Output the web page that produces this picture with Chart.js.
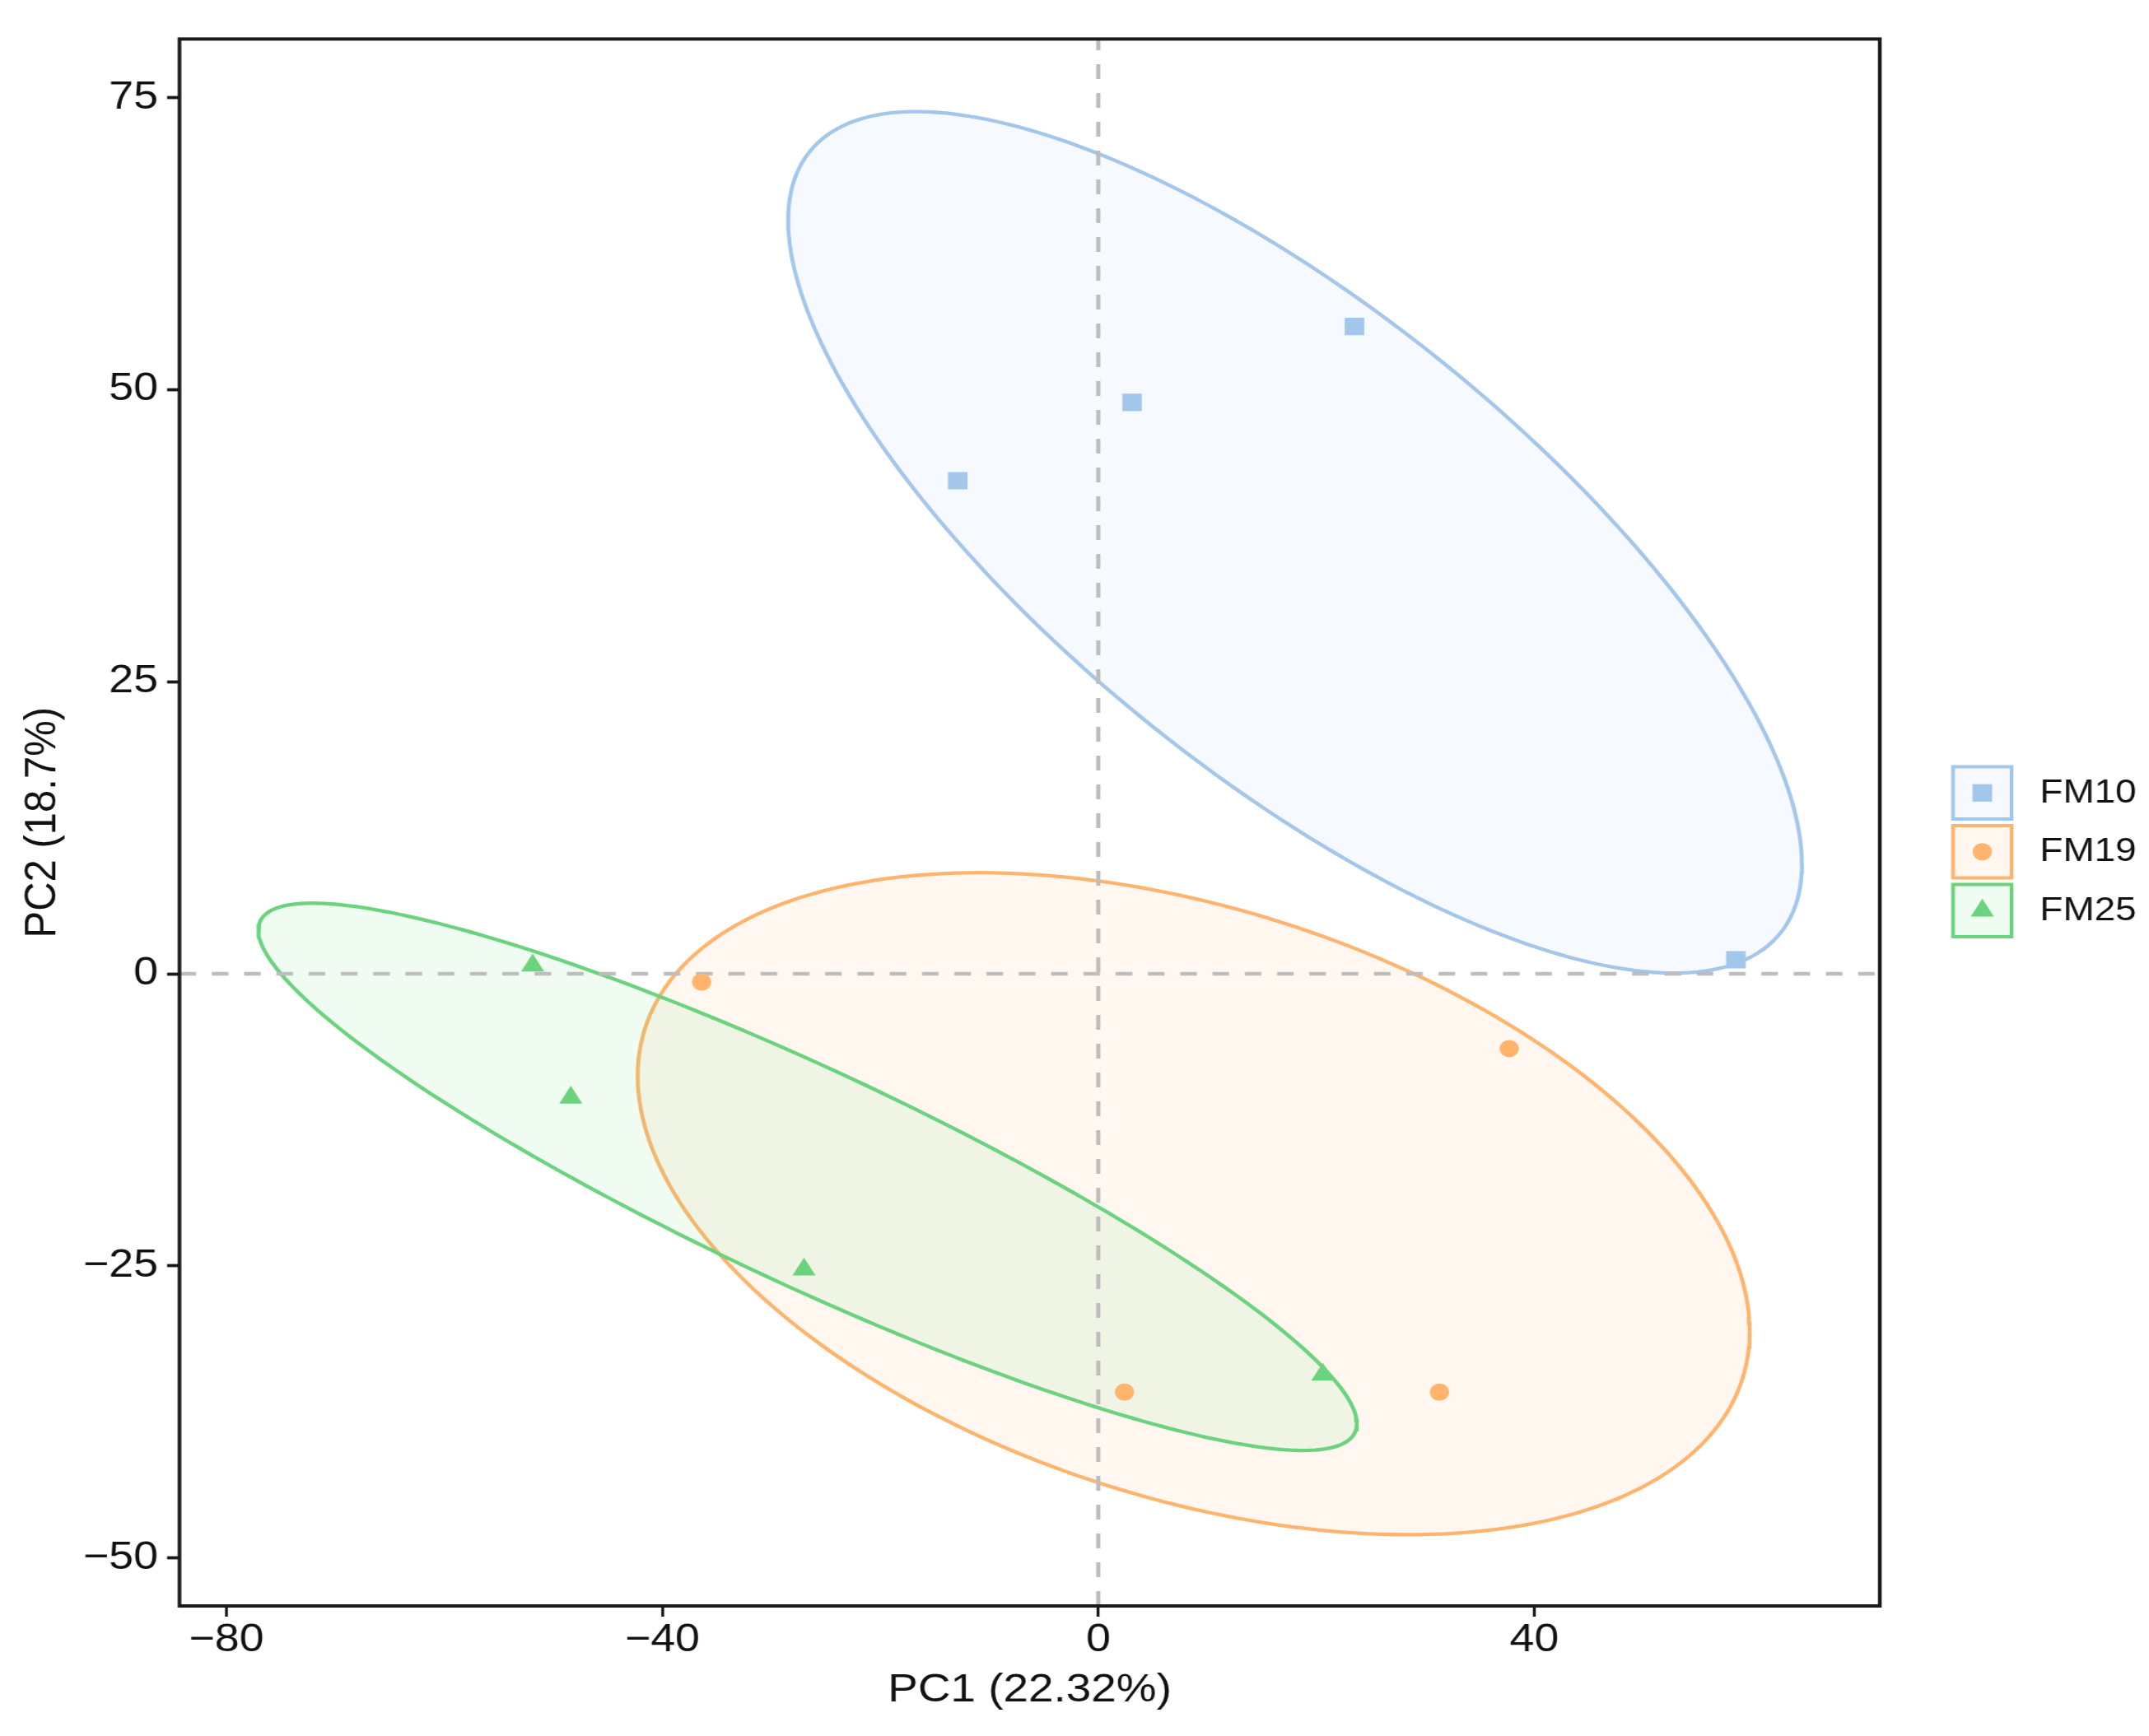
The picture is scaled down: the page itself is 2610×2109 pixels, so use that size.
<!DOCTYPE html>
<html>
<head>
<meta charset="utf-8">
<title>PCA</title>
<script src="https://cdn.jsdelivr.net/npm/chart.js@4.4.1/dist/chart.umd.min.js"></script>
<style>
  html, body { margin: 0; padding: 0; background: #fff; overflow: hidden; }
  #pca { display: block; }
</style>
</head>
<body>
<!-- the source picture is slightly wider than tall, so the canvas is stretched a bit in x -->
<canvas id="pca" width="2330" height="2109" style="width:2610px;height:2109px"></canvas>
<script>
const groups = ['FM10', 'FM19', 'FM25'];

const fm10X = [-12.9, 3.1, 23.5, 58.5];
const fm10Y = [42.2, 48.9, 55.4, 1.2];
const fm19X = [-36.4, 37.7, 2.4, 31.3];
const fm19Y = [-0.7, -6.4, -35.8, -35.8];
const fm25X = [-51.9, -48.4, -27.0, 20.6];
const fm25Y = [0.7, -10.6, -25.3, -34.3];

const xTicks = [-80, -40, 0, 40];
const yTicks = [-50, -25, 0, 25, 50, 75];

const xTitle = 'PC1 (22.32%)';
const yTitle = 'PC2 (18.7%)';
const ellipseLevel = 0.68;

const colors = ['#A3C6EB', '#FFB46E', '#6BD37D'];
const fills = ['rgba(163,198,235,0.1)', 'rgba(255,180,110,0.1)', 'rgba(107,211,125,0.1)'];
const styles = ['rect', 'circle', 'triangle'];
const radii = [15, 10.5, 14.5];
const font = "'Liberation Sans', Arial, Helvetica, sans-serif";

const zip = (xs, ys) => xs.map((x, i) => ({ x, y: ys[i] }));
const fmt = v => String(v).replace('-', '\u2212');

// normal-theory confidence ellipse of one group (sample covariance, chi-square radius)
function ellipse(xs, ys, level, steps) {
  const n = xs.length;
  const mx = xs.reduce((a, b) => a + b, 0) / n;
  const my = ys.reduce((a, b) => a + b, 0) / n;
  let sxx = 0, syy = 0, sxy = 0;
  for (let i = 0; i < n; i++) {
    sxx += (xs[i] - mx) ** 2;
    syy += (ys[i] - my) ** 2;
    sxy += (xs[i] - mx) * (ys[i] - my);
  }
  sxx /= n - 1; syy /= n - 1; sxy /= n - 1;
  const a = Math.sqrt(sxx), b = sxy / a, c = Math.sqrt(syy - b * b);
  const r = Math.sqrt(-2 * Math.log(1 - level));
  const pts = [];
  for (let k = 0; k <= steps; k++) {
    const t = 2 * Math.PI * k / steps;
    pts.push({ x: mx + r * a * Math.cos(t), y: my + r * (b * Math.cos(t) + c * Math.sin(t)) });
  }
  return pts;
}

const series = [[fm10X, fm10Y], [fm19X, fm19Y], [fm25X, fm25Y]];

const pointSets = groups.map((g, i) => ({
  label: g,
  data: zip(series[i][0], series[i][1]),
  pointStyle: styles[i],
  pointRadius: radii[i],
  pointHoverRadius: radii[i],
  pointBackgroundColor: colors[i],
  pointBorderWidth: 0,
  showLine: false,
  order: 0
}));

const ellipseSets = groups.map((g, i) => ({
  label: g + ' ellipse',
  id: 'ell-' + g,
  data: ellipse(series[i][0], series[i][1], ellipseLevel, 240),
  showLine: true,
  pointRadius: 0,
  pointHitRadius: 0,
  borderColor: colors[i],
  borderWidth: 4.3,
  backgroundColor: fills[i],
  fill: 'shape',
  tension: 0,
  order: 3 - i
}));

const zeroLines = {
  id: 'zeroLines',
  afterDatasetDraw(chart, args) {
    if (chart.data.datasets[args.index].id !== 'ell-FM25') return;
    const { ctx, chartArea: a, scales: { x, y } } = chart;
    const px = x.getPixelForValue(0), py = y.getPixelForValue(0);
    ctx.save();
    ctx.strokeStyle = '#BDBDBD';
    ctx.lineWidth = 4.5;
    ctx.setLineDash([18, 17]);
    ctx.beginPath();
    ctx.moveTo(a.left, py); ctx.lineTo(a.right, py);
    ctx.moveTo(px, a.bottom); ctx.lineTo(px, a.top);
    ctx.stroke();
    ctx.restore();
  }
};

const panelBorder = {
  id: 'panelBorder',
  afterDatasetsDraw(chart) {
    const { ctx, chartArea: a } = chart;
    ctx.save();
    ctx.strokeStyle = '#1a1a1a';
    ctx.lineWidth = 4;
    ctx.strokeRect(a.left, a.top, a.right - a.left, a.bottom - a.top);
    ctx.restore();
  }
};

const legendBox = {
  id: 'legendBox',
  afterDraw(chart) {
    const { ctx } = chart;
    const left = 2115.5, size = 67.5, step = 71.5, midY = 1034.75;
    groups.forEach((g, i) => {
      const top = midY - size / 2 + (i - 1) * step;
      ctx.save();
      ctx.fillStyle = fills[i];
      ctx.fillRect(left, top, size, size);
      ctx.strokeStyle = colors[i];
      ctx.lineWidth = 4;
      ctx.strokeRect(left + 2, top + 2, size - 4, size - 4);
      ctx.fillStyle = colors[i];
      Chart.helpers.drawPoint(ctx, { pointStyle: styles[i], radius: radii[i], rotation: 0, borderWidth: 0 },
        left + size / 2, top + size / 2);
      ctx.fillStyle = '#111';
      ctx.font = '41px ' + font;
      ctx.textAlign = 'left';
      ctx.textBaseline = 'middle';
      ctx.fillText(g, 2211.6, top + size / 2);
      ctx.restore();
    });
  }
};

const tickFont = { family: font, size: 48, lineHeight: 1 };
const titleFont = { family: font, size: 49, lineHeight: 1 };

new Chart(document.getElementById('pca'), {
  type: 'scatter',
  data: { datasets: [...pointSets, ...ellipseSets] },
  options: {
    responsive: false,
    devicePixelRatio: 1,
    animation: false,
    events: [],
    layout: { padding: { left: 0, right: 291.9, top: 47.4, bottom: 0 } },
    plugins: { legend: { display: false }, tooltip: { enabled: false } },
    scales: {
      x: {
        type: 'linear',
        min: -84.3,
        max: 71.7,
        afterBuildTicks: s => { s.ticks = xTicks.map(v => ({ value: v })); },
        afterFit: s => { s.height = 158; },
        border: { display: false },
        grid: { drawOnChartArea: false, drawTicks: true, tickLength: 13, tickWidth: 3.2, tickColor: '#1a1a1a', color: 'rgba(0,0,0,0)' },
        ticks: { padding: 5, color: '#111', font: tickFont, maxRotation: 0, autoSkip: false, callback: v => fmt(v) },
        title: { display: true, text: xTitle, color: '#111', font: titleFont, padding: 31 }
      },
      y: {
        type: 'linear',
        min: -54.1,
        max: 80.0,
        afterBuildTicks: s => { s.ticks = yTicks.map(v => ({ value: v })); },
        afterFit: s => { s.width = 194.6; },
        border: { display: false },
        grid: { drawOnChartArea: false, drawTicks: true, tickLength: 13.4, tickWidth: 3.8, tickColor: '#1a1a1a', color: 'rgba(0,0,0,0)' },
        ticks: { padding: 9.8, color: '#111', font: tickFont, autoSkip: false, callback: v => fmt(v) },
        title: { display: true, text: yTitle, color: '#111', font: titleFont, padding: 22.4 }
      }
    }
  },
  plugins: [zeroLines, panelBorder, legendBox]
});
</script>
</body>
</html>
